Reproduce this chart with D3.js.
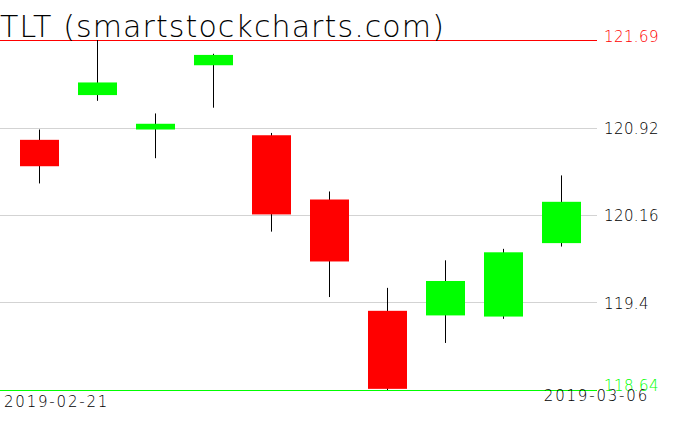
<!DOCTYPE html>
<html lang="en">
<head>
    <meta charset="UTF-8">
    <title>TLT</title>
    <script src="https://cdn.jsdelivr.net/npm/d3@7/dist/d3.min.js"></script>
    <style>
        body { margin:0; background:#fff; }
        text { font-family:'DejaVu Sans', sans-serif; font-weight:200; }
    </style>
</head>
<body>
<div id="grafica"></div>
<script>
// data
dates  = ['2019-02-21','2019-02-22','2019-02-25','2019-02-26','2019-02-27','2019-02-28','2019-03-01','2019-03-04','2019-03-05','2019-03-06']
open   = [120.82, 121.21, 120.91, 121.47, 120.86, 120.30, 119.33, 119.29, 119.28, 119.92]
high   = [120.91, 121.69, 121.05, 121.57, 120.88, 120.37, 119.53, 119.77, 119.87, 120.51]
low    = [120.44, 121.16, 120.66, 121.10, 120.02, 119.45, 118.64, 119.05, 119.26, 119.89]
close  = [120.59, 121.32, 120.96, 121.56, 120.17, 119.76, 118.65, 119.59, 119.84, 120.28]
gridVals   = [120.9275, 120.165, 119.4025]
gridLabels = ['120.92', '120.16', '119.4']
maxLabel = '121.69'
minLabel = '118.64'

ancho_total = 676
alto_total = 431

svg = d3.select('#grafica')
        .append('svg')
        .attr('width', ancho_total)
        .attr('height', alto_total)

x = d3.scaleBand()
    .domain(dates)
    .range([10, 590])
    .paddingInner(0.33)
    .paddingOuter(0.165)

y = d3.scaleLinear()
    .domain([d3.min(low), d3.max(high)])
    .range([390, 40])

lineEnd = 597

// grid lines
svg.selectAll('.grid')
    .data(gridVals)
    .enter().append('line')
    .attr('x1', 0).attr('x2', lineEnd)
    .attr('y1', d => Math.round(y(d)) + 0.5)
    .attr('y2', d => Math.round(y(d)) + 0.5)
    .attr('stroke', '#d3d3d3')

svg.selectAll('.glab')
    .data(gridVals)
    .enter().append('text')
    .attr('x', 604)
    .attr('y', d => y(d) + 6)
    .attr('font-size', 15)
    .attr('letter-spacing', 0.4)
    .attr('fill', '#000')
    .text((d, i) => gridLabels[i])

// max / min lines
maxY = y(d3.max(high))
minY = y(d3.min(low))
svg.append('line')
    .attr('x1', 0).attr('x2', lineEnd)
    .attr('y1', Math.round(maxY) + 0.5).attr('y2', Math.round(maxY) + 0.5)
    .attr('stroke', '#ff0000')
svg.append('text')
    .attr('x', 604).attr('y', maxY + 2)
    .attr('font-size', 15).attr('letter-spacing', 0.4).attr('fill', '#ff0000')
    .text(maxLabel)

// candles
idx = d3.range(dates.length)
bw = x.bandwidth()

svg.selectAll('.wick')
    .data(idx)
    .enter().append('line')
    .attr('x1', i => Math.round(x(dates[i]) + bw / 2) + 0.5)
    .attr('x2', i => Math.round(x(dates[i]) + bw / 2) + 0.5)
    .attr('y1', i => y(high[i]))
    .attr('y2', i => y(low[i]))
    .attr('stroke', '#000')

svg.selectAll('.body')
    .data(idx)
    .enter().append('rect')
    .attr('x', i => Math.round(x(dates[i])))
    .attr('width', Math.round(bw))
    .attr('y', i => y(Math.max(open[i], close[i])))
    .attr('height', i => Math.max(1, y(Math.min(open[i], close[i])) - y(Math.max(open[i], close[i]))))
    .attr('fill', i => close[i] >= open[i] ? '#00ff00' : '#ff0000')

svg.append('line')
    .attr('x1', 0).attr('x2', lineEnd)
    .attr('y1', Math.round(minY) + 0.5).attr('y2', Math.round(minY) + 0.5)
    .attr('stroke', '#00ff00')
svg.append('text')
    .attr('x', 604).attr('y', minY + 1)
    .attr('font-size', 15).attr('letter-spacing', 0.4).attr('fill', '#00ff00')
    .text(minLabel)

// date labels
svg.append('text')
    .attr('x', 4).attr('y', 407)
    .attr('font-size', 15)
    .attr('letter-spacing', 1.8)
    .text(dates[0])
svg.append('text')
    .attr('x', 649).attr('y', 401)
    .attr('text-anchor', 'end')
    .attr('font-size', 15)
    .attr('letter-spacing', 1.8)
    .text(dates[dates.length - 1])

// title
svg.append('text')
    .attr('x', 0).attr('y', 37)
    .attr('font-size', 30)
    .attr('letter-spacing', 1.1)
    .text('TLT (smartstockcharts.com)')
</script>
</body>
</html>
